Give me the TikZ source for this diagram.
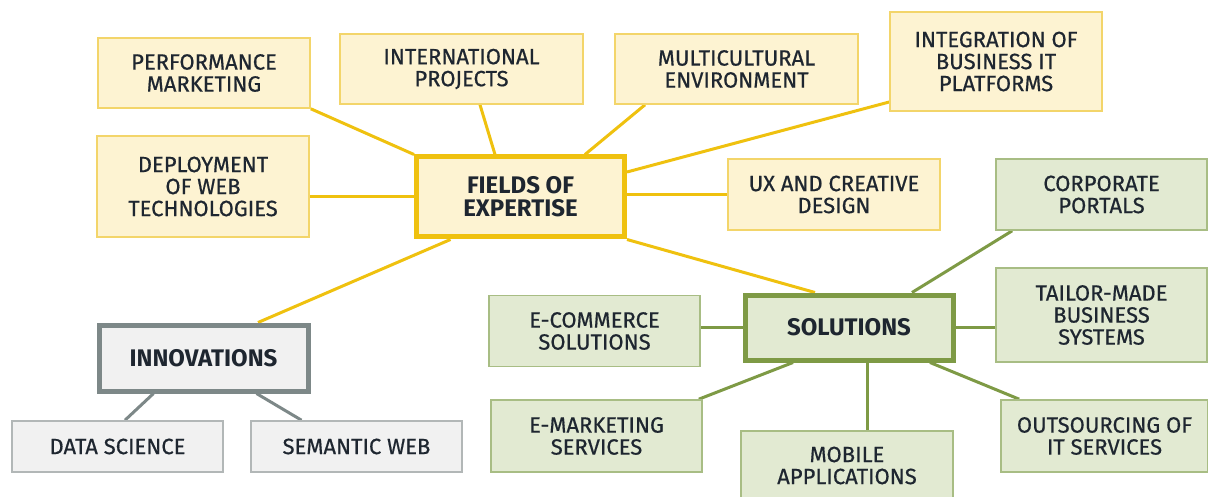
\documentclass[tikz,border=0pt]{standalone}
\usepackage{fontspec}
\setmainfont{Fira Sans}
\newfontfamily\boxfont{Fira Sans}[FakeBold=0.6]
\usetikzlibrary{calc,backgrounds}

\definecolor{ink}{HTML}{1E2630}
\definecolor{yfill}{HTML}{FDF3D2}
\definecolor{yedge}{HTML}{F3D56A}
\definecolor{ystrong}{HTML}{EFC10F}
\definecolor{gfill}{HTML}{E2EAD2}
\definecolor{gedge}{HTML}{A8BD84}
\definecolor{gstrong}{HTML}{7E9A45}
\definecolor{sfill}{HTML}{F1F1F1}
\definecolor{sedge}{HTML}{B2B7B7}
\definecolor{sstrong}{HTML}{7D8888}

\tikzset{
  box/.style 2 args={draw, line width=1.6pt, minimum width=#1, minimum height=#2,
    inner sep=0pt, align=center, text=ink,
    font=\boxfont\fontsize{22}{22}\selectfont},
  ybox/.style={fill=yfill, draw=yedge},
  gbox/.style={fill=gfill, draw=gedge},
  sbox/.style={fill=sfill, draw=sedge},
  hub/.style={line width=5pt, font=\rmfamily\fontsize{24}{23}\selectfont\bfseries},
  ylink/.style={draw=ystrong, line width=3pt},
  glink/.style={draw=gstrong, line width=3pt},
  slink/.style={draw=sstrong, line width=3pt},
}

\begin{document}
\begin{tikzpicture}[x=1pt,y=-1pt]
\useasboundingbox (0,0) rectangle (1208,497);

% fields of expertise cluster
\node[box={212}{70}, ybox] (pm)  at (204,73)      {PERFORMANCE\\MARKETING};
\node[box={212}{101}, ybox] (dep) at (203,186.5)  {DEPLOYMENT\\OF WEB\\TECHNOLOGIES};
\node[box={243}{70}, ybox] (ip)  at (461.5,69)    {INTERNATIONAL\\PROJECTS};
\node[box={243}{70}, ybox] (mc)  at (736.5,69)    {MULTICULTURAL\\ENVIRONMENT};
\node[box={212}{99}, ybox] (int) at (996,61.5)    {INTEGRATION OF\\BUSINESS IT\\PLATFORMS};
\node[box={212}{71}, ybox] (ux)  at (834,194.5)   {UX AND CREATIVE\\DESIGN};
\node[box={208}{80}, ybox, hub, draw=ystrong] (foe) at (520.5,197) {FIELDS OF\\EXPERTISE};

% solutions cluster
\node[box={211}{71}, gbox] (cp)  at (1101.5,194.5) {CORPORATE\\PORTALS};
\node[box={211}{94}, gbox] (tm)  at (1101.5,315)   {TAILOR-MADE\\BUSINESS\\SYSTEMS};
\node[box={207}{72}, gbox] (os)  at (1104.5,436)   {OUTSOURCING OF\\IT SERVICES};
\node[box={208}{65}, gbox, hub, draw=gstrong] (sol) at (849,327.5) {SOLUTIONS};
\node[box={211}{71}, gbox] (ec)  at (594.5,331)    {E-COMMERCE\\SOLUTIONS};
\node[box={211}{72}, gbox] (em)  at (596.5,436)    {E-MARKETING\\SERVICES};
\node[box={212}{69}, gbox] (mob) at (847,465.5)    {MOBILE\\APPLICATIONS};

% innovations cluster
\node[box={209}{66}, sbox, hub, draw=sstrong] (inn) at (203.5,358) {INNOVATIONS};
\node[box={211}{51}, sbox] (ds) at (117.5,446.5) {DATA SCIENCE};
\node[box={211}{51}, sbox] (sw) at (356.5,446.5) {SEMANTIC WEB};

\begin{pgfonlayer}{background}
  % yellow branches
  \draw[ylink] (pm.south east) -- (foe.north west);
  \draw[ylink] (foe.west -| dep.east) -- (foe.west);
  \draw[ylink] ($(ip.south)+(18.5,0)$) -- ($(foe.north)+(-25.5,0)$);
  \draw[ylink] ($(mc.south)+(-91.5,0)$) -- ($(foe.north)+(64.5,0)$);
  \draw[ylink] ($(int.west)+(0,40.5)$) -- ($(foe.east)+(0,-25)$);
  \draw[ylink] (ux.west -| foe.east) -- (ux.west);
  \draw[ylink] ($(foe.south)+(-70,0)$) -- ($(inn.north)+(54.5,0)$);
  \draw[ylink] (foe.south east) -- ($(sol.north)+(-34,0)$);
  % green branches
  \draw[glink] ($(sol.north)+(63,0)$) -- ($(cp.south west)+(17,0)$);
  \draw[glink] (sol.east) -- (sol.east -| tm.west);
  \draw[glink] ($(sol.south)+(81,0)$) -- ($(os.north west)+(19,0)$);
  \draw[glink] ($(sol.south)+(18,0)$) -- ($(mob.north)+(20,0)$);
  \draw[glink] ($(sol.south)+(-56,0)$) -- ($(em.north east)+(-4,0)$);
  \draw[glink] (sol.west) -- (sol.west -| ec.east);
  % grey branches
  \draw[slink] ($(inn.south)+(-50,0)$) -- ($(ds.north)+(7.5,0)$);
  \draw[slink] ($(inn.south)+(53,0)$) -- ($(sw.north)+(-55,0)$);
\end{pgfonlayer}
\end{tikzpicture}
\end{document}
